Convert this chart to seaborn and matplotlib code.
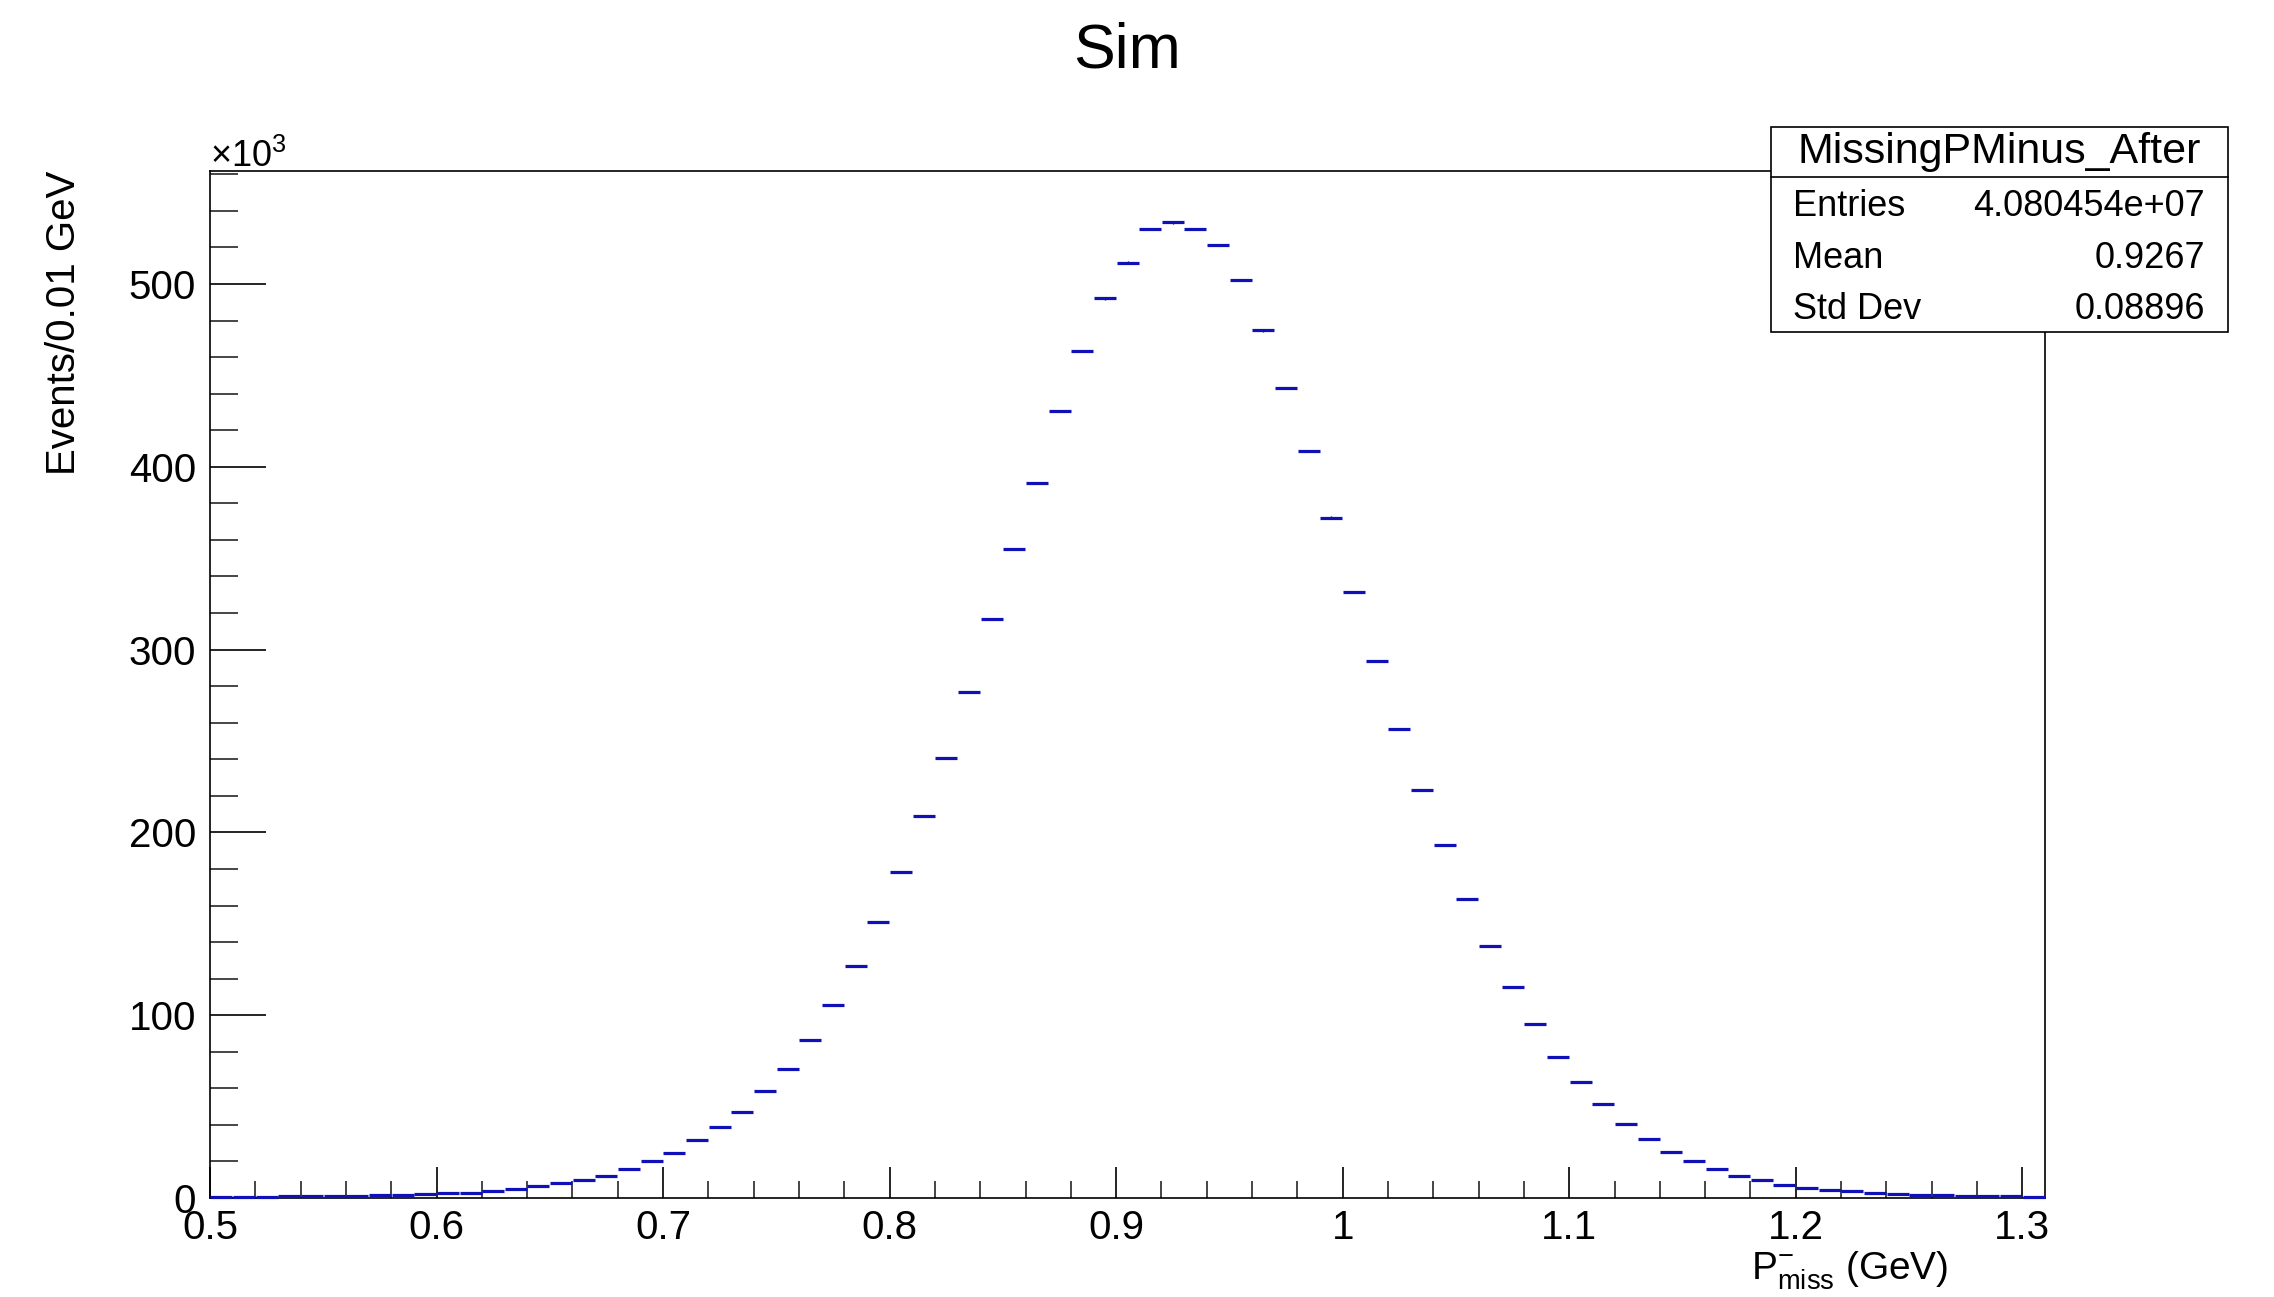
import numpy as np
import pandas as pd
import seaborn as sns
import matplotlib
matplotlib.use("Agg")
import matplotlib.pyplot as plt
from matplotlib.patches import Rectangle
from matplotlib.lines import Line2D
from matplotlib.ticker import MultipleLocator, FuncFormatter

# --- histogram: 81 bins of 0.01 GeV from 0.5 to 1.31, contents in thousands ---
bin_lo, bin_hi, bin_w = 0.5, 1.31, 0.01
events_k = [
    0.6, 0.7, 0.8, 0.9, 1.0, 1.1, 1.2, 1.6, 1.8, 2.0,
    2.5, 2.8, 3.6, 5.0, 6.3, 8.1, 9.8, 12.3, 15.9, 20.1,
    24.6, 31.5, 38.7, 47.2, 58.6, 70.7, 86.4, 105.6, 127.0, 150.8,
    178.6, 208.7, 240.5, 277.0, 316.7, 354.8, 391.3, 430.5, 463.3, 492.2,
    511.7, 530.0, 533.7, 530.0, 521.3, 502.2, 474.6, 443.0, 408.7, 372.2,
    331.7, 293.7, 256.3, 223.0, 192.9, 163.5, 138.1, 115.3, 95.2, 77.3,
    63.2, 51.5, 40.3, 32.4, 25.3, 20.1, 15.7, 12.3, 9.8, 7.2,
    5.4, 4.5, 3.6, 2.7, 2.0, 1.8, 1.6, 1.0, 0.9, 0.9,
    0.8,
]
hist_name = "MissingPMinus_After"
stats_labels = ["Entries", "Mean", "Std Dev"]
stats_values = ["4.080454e+07", "0.9267", "0.08896"]

centers = bin_lo + bin_w * (np.arange(len(events_k)) + 0.5)
df = pd.DataFrame({"p_miss": centers, "events": events_k})
df["err"] = np.sqrt(df["events"] * 1000.0) / 1000.0

sns.set_theme(style="white")
plt.rcParams["font.family"] = ["Liberation Sans", "DejaVu Sans"]
plt.rcParams["text.color"] = "black"
plt.rcParams["mathtext.fontset"] = "custom"
plt.rcParams["mathtext.rm"] = "Liberation Sans"
plt.rcParams["mathtext.it"] = "Liberation Sans:italic"

W, H = 2274, 1297
fig = plt.figure(figsize=(W / 100, H / 100), dpi=100)
fig.patch.set_facecolor("white")
ax = fig.add_axes([210 / W, 1 - 1198 / H, (2045 - 210) / W, (1198 - 171) / H])

blue = "#1010b8"
# vertical stat errors (tiny)
ax.errorbar(df["p_miss"], df["events"], yerr=df["err"], fmt="none",
            ecolor="black", elinewidth=1.0, zorder=3)
# horizontal bin-width markers
bin_pts = (2045 - 210) / len(events_k) * 72 / 100
sns.scatterplot(data=df, x="p_miss", y="events", marker="_", s=bin_pts ** 2,
                linewidth=2.3, color=blue, ax=ax, zorder=4, legend=False,
                clip_on=False)

ax.set_xlim(bin_lo, bin_hi)
ax.set_ylim(0, 561.8)
ax.set_xlabel("")
ax.set_ylabel("")

for side in ["left", "right", "top", "bottom"]:
    ax.spines[side].set_visible(True)
    ax.spines[side].set_color("black")
    ax.spines[side].set_linewidth(1.2)

ax.xaxis.set_major_locator(MultipleLocator(0.1))
ax.xaxis.set_minor_locator(MultipleLocator(0.02))
ax.yaxis.set_major_locator(MultipleLocator(100))
ax.yaxis.set_minor_locator(MultipleLocator(20))
ax.xaxis.set_major_formatter(FuncFormatter(lambda v, p: "%g" % round(v, 3)))
ax.yaxis.set_major_formatter(FuncFormatter(lambda v, p: "%g" % v))

ax.tick_params(axis="x", which="major", direction="in", length=22, width=1.2,
               labelsize=29, pad=8, colors="black", bottom=True, top=False)
ax.tick_params(axis="x", which="minor", direction="in", length=12, width=1.2,
               bottom=True, top=False)
ax.tick_params(axis="y", which="major", direction="in", length=40, width=1.2,
               labelsize=29, pad=10, colors="black", left=True, right=False)
ax.tick_params(axis="y", which="minor", direction="in", length=20, width=1.2,
               left=True, right=False)

# titles and axis labels
fig.text(1127 / W, 1 - 68 / H, "Sim", ha="center", va="baseline", fontsize=45)
fig.text(64 / W, 1 - 171 / H, "Events/0.01 GeV", rotation=90, ha="center",
         va="top", fontsize=29)
fig.text(1948 / W, 1 - 1279 / H, r"$\mathregular{P^{-}_{miss}}$ (GeV)",
         ha="right", va="baseline", fontsize=28)
fig.text(210 / W, 1 - 167 / H, r"$\mathregular{\times10^{3}}$", ha="left",
         va="baseline", fontsize=26)

# stats box
bx0, bx1, by0, by1, bsep = 1771, 2228, 127, 332, 177
fig.patches.append(Rectangle((bx0 / W, 1 - by1 / H), (bx1 - bx0) / W,
                             (by1 - by0) / H, transform=fig.transFigure,
                             facecolor="white", edgecolor="black", lw=1.2,
                             zorder=5))
fig.lines.append(Line2D([bx0 / W, bx1 / W], [1 - bsep / H, 1 - bsep / H],
                        transform=fig.transFigure, color="black", lw=1.2,
                        zorder=6))
fig.text(1999 / W, 1 - 152 / H, hist_name, ha="center", va="center",
         fontsize=31, zorder=7)
for lab, val, yy in zip(stats_labels, stats_values, [207, 258, 309]):
    fig.text(1793 / W, 1 - yy / H, lab, ha="left", va="center", fontsize=26,
             zorder=7)
    fig.text(2205 / W, 1 - yy / H, val, ha="right", va="center", fontsize=26,
             zorder=7)

fig.savefig("out.png", dpi=100, facecolor="white")
plt.close(fig)
